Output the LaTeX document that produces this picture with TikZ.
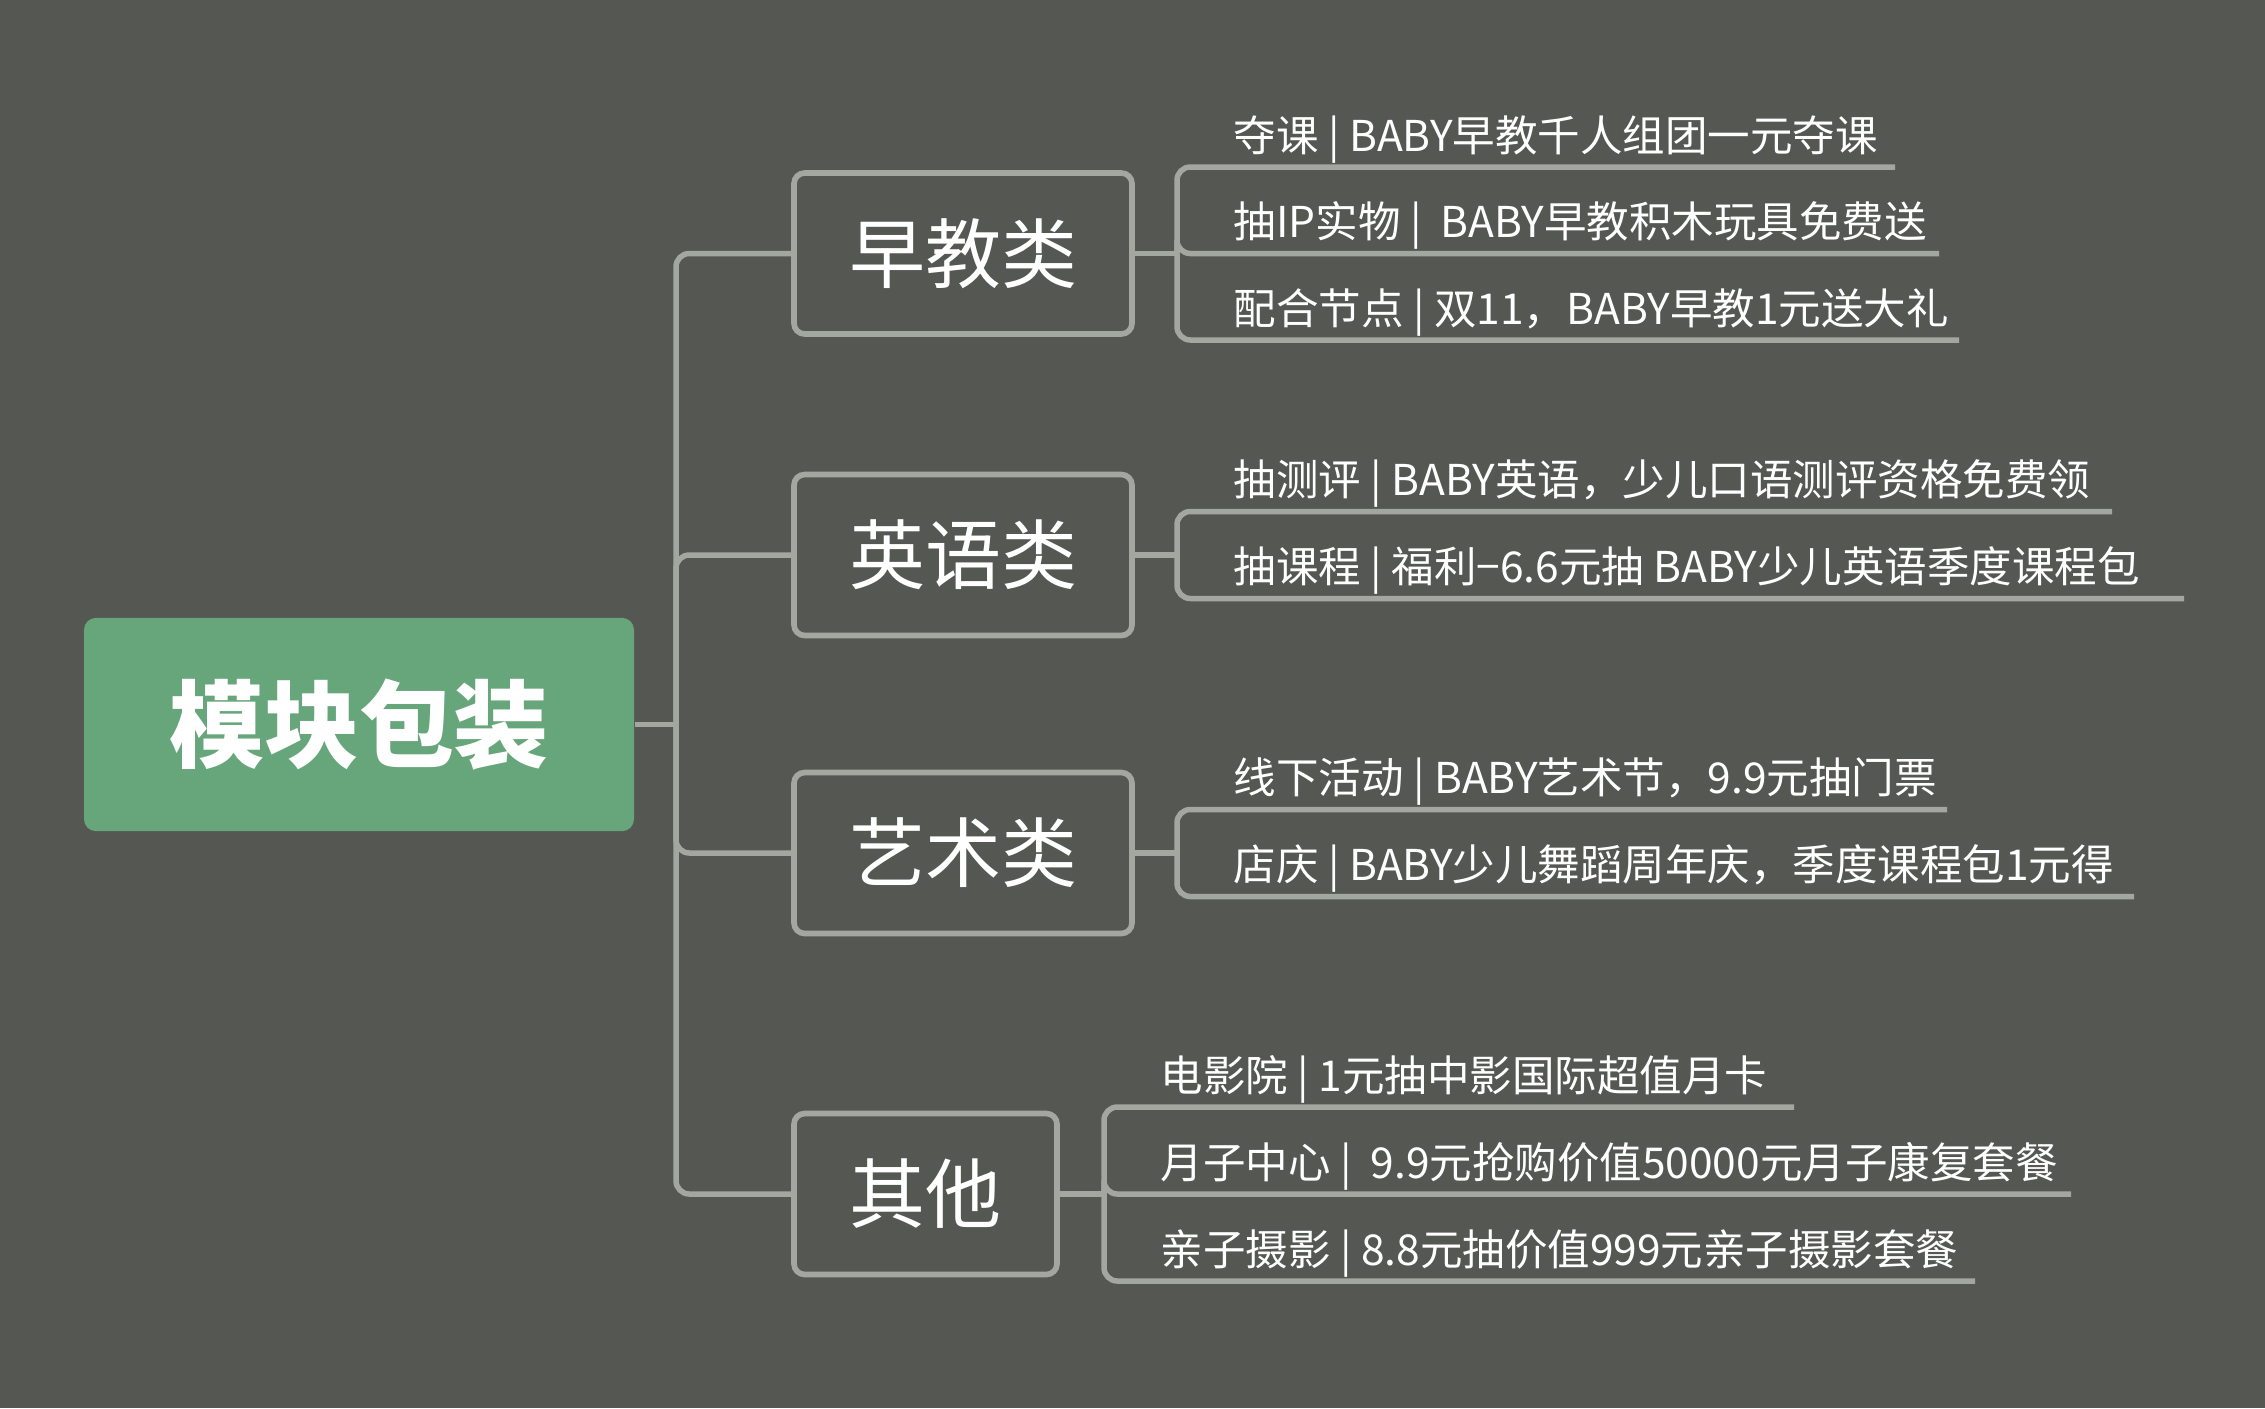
\documentclass[tikz,border=0pt]{standalone}
\usepackage{fontspec}
\setmainfont{Noto Sans CJK SC}
\definecolor{bgc}{HTML}{555753}
\definecolor{linec}{HTML}{A2A7A0}
\definecolor{rootc}{HTML}{67A67B}
\tikzset{
  conn/.style={draw=linec, line width=1.65pt, rounded corners=4pt},
  rootbox/.style={fill=rootc, rounded corners=3.6pt, text=white, font=\fontsize{28.5pt}{30pt}\selectfont\bfseries, inner sep=0pt},
  catbox/.style={draw=linec, line width=1.7pt, rounded corners=3.2pt, text=white, font=\fontsize{22.8pt}{25pt}\selectfont, minimum height=48.3pt, inner sep=0pt},
  leaf/.style={anchor=base west, text=white, font=\fontsize{12.75pt}{14pt}\selectfont, inner sep=0pt}
}
\begin{document}
\begin{tikzpicture}[x=0.3pt,y=-0.3pt]
\fill[bgc] (0,0) rectangle (2265,1408);
\useasboundingbox (0,0) rectangle (2265,1408);

% root
\node[rootbox, minimum width=165pt, minimum height=64pt] (root) at (359,724.5) {模块包装};

% categories
\node[catbox, minimum width=101.4pt] (c1) at (963,253.5) {早教类};
\node[catbox, minimum width=101.4pt] (c2) at (963,555) {英语类};
\node[catbox, minimum width=101.4pt] (c3) at (963,853) {艺术类};
\node[catbox, minimum width=78.9pt] (c4) at (925.5,1194) {其他};

% trunk
\coordinate (jr) at (676,724.5);
\draw[conn] (root.east) -- (jr);
\foreach \c in {c1,c2,c3,c4}{\draw[conn] (jr) |- (\c.west);}

% junctions
\coordinate (j1) at (1177,253.5);
\coordinate (j2) at (1177,555);
\coordinate (j3) at (1177,853);
\coordinate (j4) at (1104,1194);
\draw[conn] (c1.east) -- (j1);
\draw[conn] (c2.east) -- (j2);
\draw[conn] (c3.east) -- (j3);
\draw[conn] (c4.east) -- (j4);

% leaves 早教
\node[leaf] (l11) at (1233,151) {夺课 | BABY早教千人组团一元夺课};
\node[leaf] (l12) at (1233,237.5) {抽IP实物 |~ BABY早教积木玩具免费送};
\node[leaf] (l13) at (1233,324) {配合节点 | 双11，BABY早教1元送大礼};
\coordinate (u11) at (1895,167);
\coordinate (u12) at (1939,253.5);
\coordinate (u13) at (1959,340);
\foreach \u in {u11,u12,u13}{\draw[conn] (j1) |- (\u);}

% leaves 英语
\node[leaf] (l21) at (1233,495.5) {抽测评 | BABY英语，少儿口语测评资格免费领};
\node[leaf] (l22) at (1233,582.5) {抽课程 | 福利−6.6元抽 BABY少儿英语季度课程包};
\coordinate (u21) at (2112,511.5);
\coordinate (u22) at (2184,598.5);
\foreach \u in {u21,u22}{\draw[conn] (j2) |- (\u);}

% leaves 艺术
\node[leaf] (l31) at (1233,793.5) {线下活动 | BABY艺术节，9.9元抽门票};
\node[leaf] (l32) at (1233,880.5) {店庆 | BABY少儿舞蹈周年庆，季度课程包1元得};
\coordinate (u31) at (1947,809.5);
\coordinate (u32) at (2134,896.5);
\foreach \u in {u31,u32}{\draw[conn] (j3) |- (\u);}

% leaves 其他
\node[leaf] (l41) at (1160,1091) {电影院 | 1元抽中影国际超值月卡};
\node[leaf] (l42) at (1160,1178) {月子中心 |~ 9.9元抢购价值50000元月子康复套餐};
\node[leaf] (l43) at (1160,1265) {亲子摄影 | 8.8元抽价值999元亲子摄影套餐};
\coordinate (u41) at (1794,1107);
\coordinate (u42) at (2071,1194);
\coordinate (u43) at (1975,1281);
\foreach \u in {u41,u42,u43}{\draw[conn] (j4) |- (\u);}
\end{tikzpicture}
\end{document}
